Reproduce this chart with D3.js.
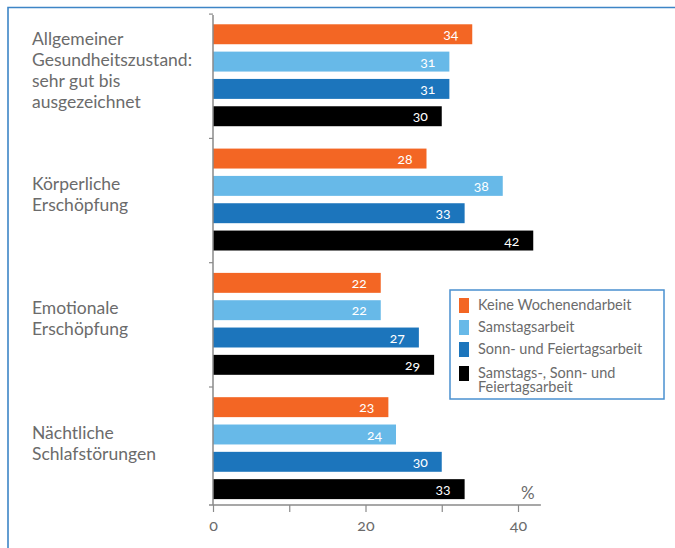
<!DOCTYPE html>
<html>
<head>
<meta charset="utf-8">
<script src="https://cdn.jsdelivr.net/npm/d3@7"></script>
<style>
  body { margin: 0; background: #fff; }
  svg text { font-family: Lato, "Open Sans", sans-serif; font-variant-numeric: oldstyle-nums; }
</style>
</head>
<body>
<div id="chart"></div>
<script>
// 1. The data
const categories = [
  ["Allgemeiner", "Gesundheitszustand:", "sehr gut bis", "ausgezeichnet"],
  ["Körperliche", "Erschöpfung"],
  ["Emotionale", "Erschöpfung"],
  ["Nächtliche", "Schlafstörungen"]
];
const seriesNames = [
  ["Keine Wochenendarbeit"],
  ["Samstagsarbeit"],
  ["Sonn- und Feiertagsarbeit"],
  ["Samstags-, Sonn- und", "Feiertagsarbeit"]
];
// values per category, in series order
const keineWochenende = [34, 28, 22, 23];
const samstag = [31, 38, 22, 24];
const sonnFeiertag = [31, 33, 27, 30];
const alleWochenende = [30, 42, 29, 33];
const tickValues = [0, 10, 20, 30, 40];
const tickLabels = ["0", "", "20", "", "40"];

// 2. The colors
const colorScheme = ["#F36624", "#67B9E8", "#1C75BC", "#000000"];

const WIDTH = 675;
const HEIGHT = 548;
const series = [keineWochenende, samstag, sonnFeiertag, alleWochenende];
const catIdx = categories.map((d, i) => i);
const serIdx = series.map((d, i) => i);

const svg = d3.select("#chart")
  .append("svg")
  .attr("width", WIDTH)
  .attr("height", HEIGHT);

// frame (top and left only)
svg.append("path")
  .attr("d", "M8,548 V7.5 H675")
  .attr("fill", "none")
  .attr("stroke", "#3D85C6")
  .attr("stroke-width", 1.6);

// scales
const x = d3.scaleLinear().domain([0, 40]).range([213, 518]);
const y0 = d3.scaleBand().domain(catIdx).range([13.1, 510.3]).paddingInner(0.18).paddingOuter(0.09);
const y1 = d3.scaleBand().domain(serIdx).range([0, y0.bandwidth()]).paddingInner(0.27);
const color = d3.scaleOrdinal().domain(serIdx).range(colorScheme);

// bars
const groups = svg.selectAll(".group")
  .data(catIdx)
  .enter()
  .append("g")
  .attr("class", "group")
  .attr("transform", (c) => `translate(0,${y0(c)})`);

const bars = groups.selectAll(".bar")
  .data((c) => serIdx.map((s) => ({ s: s, v: series[s][c] })))
  .enter()
  .append("g")
  .attr("class", "bar");

bars.append("rect")
  .attr("x", x(0))
  .attr("y", (d) => y1(d.s))
  .attr("width", (d) => x(d.v) - x(0))
  .attr("height", y1.bandwidth())
  .attr("fill", (d) => color(d.s));

bars.append("text")
  .attr("x", (d) => x(d.v) - 14)
  .attr("y", (d) => y1(d.s) + y1.bandwidth() / 2)
  .attr("dy", "0.36em")
  .attr("text-anchor", "end")
  .attr("font-size", "14px")
  .attr("fill", "#fff")
  .text((d) => d.v);

// category labels
const lineH = 21;
svg.selectAll(".cat-label")
  .data(catIdx)
  .enter()
  .append("text")
  .attr("class", "cat-label")
  .attr("font-size", "17.5px")
  .attr("fill", "#6B6B6B")
  .each(function (c) {
    const lines = categories[c];
    const mid = y0(c) + y0.bandwidth() / 2;
    const first = mid - (lines.length - 1) / 2 * lineH + 1;
    d3.select(this).selectAll("tspan")
      .data(lines)
      .enter()
      .append("tspan")
      .attr("x", 32)
      .attr("y", (d, i) => first + i * lineH)
      .text((d) => d);
  });

// vertical axis line with group separator ticks
const axisColor = "#8A8A8A";
svg.append("line")
  .attr("x1", x(0)).attr("x2", x(0))
  .attr("y1", 15).attr("y2", 505)
  .attr("stroke", axisColor)
  .attr("stroke-width", 1.5);

const sepPad = (y0.step() - y0.bandwidth()) / 2;
svg.selectAll(".sep")
  .data(catIdx)
  .enter()
  .append("line")
  .attr("x1", x(0) - 4).attr("x2", x(0))
  .attr("y1", (c) => y0(c) - sepPad + 1)
  .attr("y2", (c) => y0(c) - sepPad + 1)
  .attr("stroke", axisColor)
  .attr("stroke-width", 1.2);

// x axis
const xAxis = svg.append("g")
  .attr("transform", "translate(0,505)")
  .call(d3.axisBottom(x)
    .tickValues(tickValues)
    .tickSize(7)
    .tickFormat((d, i) => tickLabels[i]));

xAxis.select(".domain")
  .attr("d", `M${x(0) - 4},0H${x(43)}`)
  .attr("stroke", axisColor)
  .attr("stroke-width", 1.5);
xAxis.selectAll(".tick line")
  .attr("stroke", axisColor)
  .attr("stroke-width", 1.2);
xAxis.selectAll(".tick text")
  .attr("font-family", "Lato, sans-serif")
  .attr("font-size", "16px")
  .attr("fill", "#6B6B6B")
  .attr("y", 15);

svg.append("text")
  .attr("x", x(41.3))
  .attr("y", 499)
  .attr("text-anchor", "middle")
  .attr("font-size", "17px")
  .attr("fill", "#6B6B6B")
  .text("%");

// legend
const legend = svg.append("g").attr("transform", "translate(450,290)");
legend.append("rect")
  .attr("width", 214)
  .attr("height", 109)
  .attr("fill", "#fff")
  .attr("stroke", "#4A90D0")
  .attr("stroke-width", 1.5);

const legendY = [8, 30, 52, 76];
const items = legend.selectAll(".item")
  .data(serIdx)
  .enter()
  .append("g")
  .attr("class", "item")
  .attr("transform", (s) => `translate(9,${legendY[s]})`);

items.append("rect")
  .attr("width", 10)
  .attr("height", 15)
  .attr("fill", (s) => color(s));

items.append("text")
  .attr("font-size", "14.5px")
  .attr("fill", "#6B6B6B")
  .each(function (s) {
    d3.select(this).selectAll("tspan")
      .data(seriesNames[s])
      .enter()
      .append("tspan")
      .attr("x", 19)
      .attr("y", (d, i) => 12 + i * 14)
      .text((d) => d);
  });
</script>
</body>
</html>
